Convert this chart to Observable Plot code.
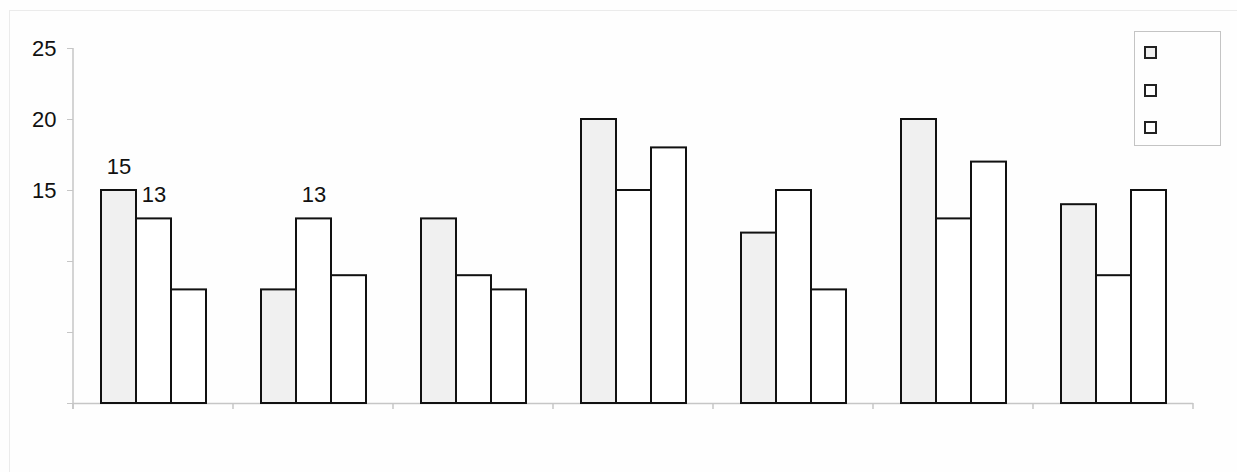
<!DOCTYPE html>
<html><head><meta charset="utf-8">
<script src="https://cdn.jsdelivr.net/npm/d3@7"></script>
<script src="https://cdn.jsdelivr.net/npm/@observablehq/plot@0.6"></script>
<style>
body{margin:0;background:#fefefe;font-family:"Liberation Sans",Arial,sans-serif;}
#wrap{position:relative;width:1237px;height:472px;overflow:hidden;}
#border{position:absolute;left:9px;top:10px;width:1300px;height:600px;border:1px solid #ebebeb;}
#chart{position:absolute;left:0;top:0;}
#legend{position:absolute;left:1134px;top:31px;width:87px;height:115px;border:1px solid #c4c4c4;box-sizing:border-box;background:#fefefe}
.sw{position:absolute;left:9px;width:13px;height:13px;box-sizing:border-box;border:2px solid #222;}
</style></head>
<body><div id="wrap"><div id="border"></div><div id="chart"></div><div id="legend"></div></div>
<script>
const categories = ["1","2","3","4","5","6","7"];
const seriesNames = ["Series 1","Series 2","Series 3"];
const series1 = [15, 8, 13, 20, 12, 20, 14];
const series2 = [13, 13, 9, 15, 15, 13, 9];
const series3 = [8, 9, 8, 18, 8, 17, 15];
const seriesFills = ["#f0f0f0", "#ffffff", "#ffffff"];
const yTicks = [0, 5, 10, 15, 20, 25];
const yTickLabels = ["", "", "", "15", "20", "25"];
// bars that carry a value label: [category, series]
const labelled = [["1", "Series 1"], ["1", "Series 2"], ["2", "Series 2"]];

const allSeries = [series1, series2, series3];
const table = [];
categories.forEach((c, i) => seriesNames.forEach((s, j) => table.push({category: c, series: s, value: allSeries[j][i]})));
const labelRows = labelled.map(([c, s]) => {
  const r = table.find(d => d.category === c && d.series === s);
  return {...r, text: String(r.value)};
});
const tickLabel = new Map(yTicks.map((t, i) => [t, yTickLabels[i]]));

const plot = Plot.plot({
  width: 1237, height: 472,
  marginTop: 48, marginBottom: 69, marginLeft: 73, marginRight: 44,
  style: {background: "transparent", fontFamily: "'Liberation Sans', Arial, sans-serif", fontSize: "22px", color: "#111"},
  fx: {domain: categories, padding: 0, axis: null},
  x: {domain: seriesNames, paddingInner: 0, paddingOuter: 0.75, axis: null},
  y: {domain: [0, 25], axis: null},
  color: {domain: seriesNames, range: seriesFills},
  marks: [
    Plot.ruleY([0], {stroke: "#c6c6c6", strokeWidth: 1.5}),
    Plot.barY(table, {fx: "category", x: "series", y: "value", fill: "series", stroke: "#111", strokeWidth: 2}),
    Plot.text(labelRows, {fx: "category", x: "series", y: "value", text: "text", lineAnchor: "bottom", dy: -17, fontSize: 22, fill: "#111"}),
    Plot.axisY({ticks: yTicks, tickFormat: d => tickLabel.get(d), tickSize: 6, tickPadding: 11, stroke: "#c6c6c6", fill: "#111", fontSize: 22, label: null})
  ]
});
document.getElementById("chart").appendChild(plot);

// axis decorations derived from the plot's own scales
const fx = plot.scale("fx"), y = plot.scale("y");
const svg = d3.select(plot);
const y0 = y.apply(0), yTop = y.apply(25);
const bounds = categories.map(c => fx.apply(c));
bounds.push(fx.apply(categories[categories.length - 1]) + fx.bandwidth);
const g = svg.append("g").attr("stroke", "#c6c6c6").attr("stroke-width", 1.5);
bounds.forEach(b => g.append("line").attr("x1", b).attr("x2", b).attr("y1", y0).attr("y2", y0 + 6));
g.append("line").attr("x1", bounds[0]).attr("x2", bounds[0]).attr("y1", yTop).attr("y2", y0 + 6);

// legend (swatches only, as in the reference)
const legend = document.getElementById("legend");
seriesNames.forEach((s, i) => {
  const d = document.createElement("div");
  d.className = "sw";
  d.style.top = (14 + i * 37.7) + "px";
  d.style.background = seriesFills[i];
  legend.appendChild(d);
});
</script>
</body></html>
